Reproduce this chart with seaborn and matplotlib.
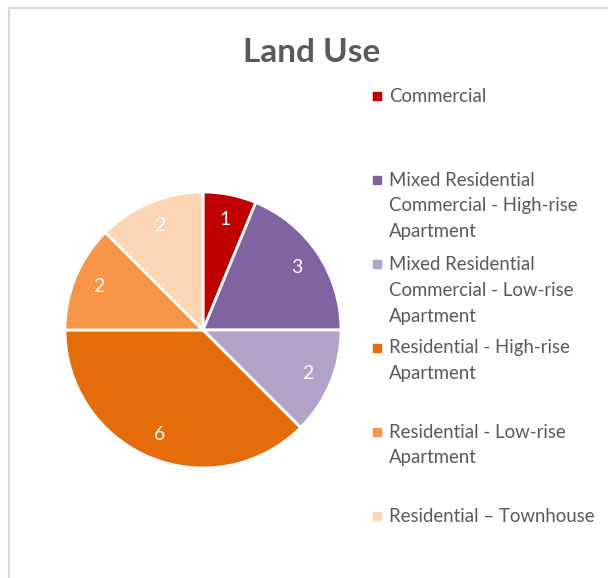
import matplotlib
matplotlib.use("Agg")
import matplotlib.pyplot as plt
from matplotlib.patches import Rectangle
from matplotlib.lines import Line2D
import seaborn as sns

# ── Data ─────────────────────────────────────────────────────────────────────
categories = [
    "Commercial",
    "Mixed Residential\nCommercial - High-rise\nApartment",
    "Mixed Residential\nCommercial - Low-rise\nApartment",
    "Residential - High-rise\nApartment",
    "Residential - Low-rise\nApartment",
    "Residential \u2013 Townhouse",
]
counts = [1, 3, 2, 6, 2, 2]
colors = ["#C00000", "#8064A2", "#B3A2C7", "#E46C0A", "#F79646", "#FCD5B5"]

sns.set_theme(style="white")
plt.rcParams["font.family"] = ["Lato", "DejaVu Sans"]
palette = sns.color_palette(colors)

W, H = 608, 578
fig = plt.figure(figsize=(W / 100, H / 100), dpi=100)

# chart border (top + left visible)
fig.add_artist(Line2D([9 / W, 1], [1 - 8 / H, 1 - 8 / H], color="#D9D9D9", lw=1.5))
fig.add_artist(Line2D([9 / W, 9 / W], [0, 1 - 8 / H], color="#D9D9D9", lw=1.5))

# ── Pie ──────────────────────────────────────────────────────────────────────
cx, cy, r = 203, 330, 138
ax = fig.add_axes([(cx - r) / W, (H - cy - r) / H, 2 * r / W, 2 * r / H])
wedges, texts = ax.pie(
    counts, colors=palette, startangle=90, counterclock=False,
    labels=[str(c) for c in counts], labeldistance=0.82,
    wedgeprops=dict(edgecolor="white", linewidth=2),
    textprops=dict(color="white", fontsize=14, ha="center", va="center"),
)
ax.set_xlim(-1, 1)
ax.set_ylim(-1, 1)
ax.set_aspect("equal")

fig.text(312 / W, 1 - 52 / H, "Land Use", ha="center", va="center",
         fontsize=24, fontweight="bold", color="#595959")

# ── Legend ───────────────────────────────────────────────────────────────────
y0, step, line_h = 96, 84, 26
for i, (lab, col) in enumerate(zip(categories, palette)):
    y = y0 + i * step
    fig.add_artist(Rectangle((373 / W, 1 - (y + 4) / H), 8 / W, 8 / H,
                             transform=fig.transFigure, color=col))
    for j, line in enumerate(lab.split("\n")):
        fig.text(389 / W, 1 - (y + j * line_h) / H, line, ha="left", va="center",
                 fontsize=13.4, color="#595959")

fig.savefig("out.png", dpi=100)
